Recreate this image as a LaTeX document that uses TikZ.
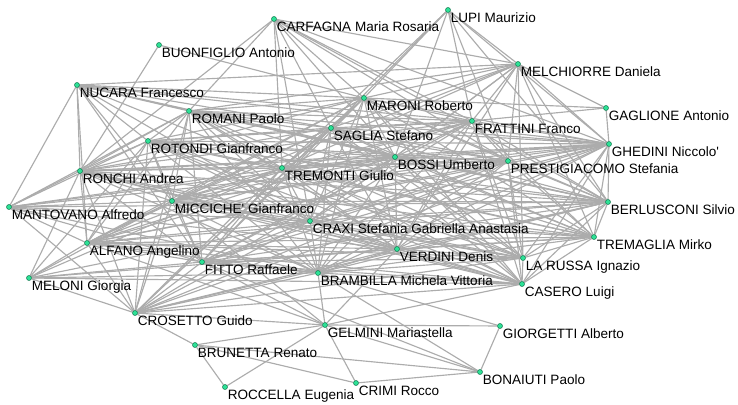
\documentclass[tikz,border=0pt]{standalone}
\usepackage{fontspec}
\setmainfont{Liberation Sans}
\usepackage{tikz}
\usetikzlibrary{backgrounds}
\definecolor{dotfill}{RGB}{45,225,150}
\definecolor{dotline}{RGB}{20,120,80}
\definecolor{linkgray}{RGB}{172,172,172}

\begin{document}
\begin{tikzpicture}[x=0.2mm,y=-0.2mm,
  person node/.style={circle, draw=dotline, fill=dotfill, line width=0.3pt, inner sep=0pt, minimum size=1.0mm},
  name text/.style={inner sep=0.3pt, font=\fontsize{7.7}{9}\selectfont},
  link/.style={draw=linkgray, line width=0.65pt}]
  \useasboundingbox (0,0) rectangle (738,405);
  % Nodes
  \node[person node, label={[name text]south east:CARFAGNA Maria Rosaria}] (carf) at (274,19) {};
  \node[person node, label={[name text]south east:BUONFIGLIO Antonio}] (buon) at (159,45) {};
  \node[person node, label={[name text]south east:NUCARA Francesco}] (nuca) at (77,85) {};
  \node[person node, label={[name text]south east:ROMANI Paolo}] (roma) at (189,111) {};
  \node[person node, label={[name text]south east:ROTONDI Gianfranco}] (roto) at (148,141) {};
  \node[person node, label={[name text]south east:RONCHI Andrea}] (ronc) at (80,171) {};
  \node[person node, label={[name text]south east:TREMONTI Giulio}] (trem) at (282,168) {};
  \node[person node, label={[name text]south east:SAGLIA Stefano}] (sagl) at (331,128) {};
  \node[person node, label={[name text]south east:MARONI Roberto}] (maro) at (364,98) {};
  \node[person node, label={[name text]south east:LUPI Maurizio}] (lupi) at (448,10) {};
  \node[person node, label={[name text]south east:MELCHIORRE Daniela}] (melc) at (518,64) {};
  \node[person node, label={[name text]south east:GAGLIONE Antonio}] (gagl) at (606,108) {};
  \node[person node, label={[name text]south east:FRATTINI Franco}] (frat) at (472,121) {};
  \node[person node, label={[name text]south east:GHEDINI Niccolo\textquotesingle}] (ghed) at (609,144) {};
  \node[person node, label={[name text]south east:BOSSI Umberto}] (boss) at (395,157) {};
  \node[person node, label={[name text]south east:PRESTIGIACOMO Stefania}] (pres) at (508,161) {};
  \node[person node, label={[name text]south east:MANTOVANO Alfredo}] (mant) at (9,207) {};
  \node[person node, label={[name text]south east:MICCICHE\textquotesingle{} Gianfranco}] (micc) at (172,201) {};
  \node[person node, label={[name text]south east:CRAXI Stefania Gabriella Anastasia}] (crax) at (310,221) {};
  \node[person node, label={[name text]south east:ALFANO Angelino}] (alfa) at (87,243) {};
  \node[person node, label={[name text]south east:FITTO Raffaele}] (fitt) at (202,262) {};
  \node[person node, label={[name text]south east:MELONI Giorgia}] (melo) at (29,278) {};
  \node[person node, label={[name text]south east:BRAMBILLA Michela Vittoria}] (bram) at (318,273) {};
  \node[person node, label={[name text]south east:CROSETTO Guido}] (cros) at (135,313) {};
  \node[person node, label={[name text]south east:GELMINI Mariastella}] (gelm) at (325,325) {};
  \node[person node, label={[name text]south east:BRUNETTA Renato}] (brun) at (195,345) {};
  \node[person node, label={[name text]south east:ROCCELLA Eugenia}] (rocc) at (225,387) {};
  \node[person node, label={[name text]south east:CRIMI Rocco}] (crim) at (356,383) {};
  \node[person node, label={[name text]south east:BERLUSCONI Silvio}] (berl) at (608,202) {};
  \node[person node, label={[name text]south east:TREMAGLIA Mirko}] (trmg) at (594,237) {};
  \node[person node, label={[name text]south east:VERDINI Denis}] (verd) at (397,249) {};
  \node[person node, label={[name text]south east:LA RUSSA Ignazio}] (laru) at (523,258) {};
  \node[person node, label={[name text]south east:CASERO Luigi}] (case) at (522,284) {};
  \node[person node, label={[name text]south east:GIORGETTI Alberto}] (gior) at (500,326) {};
  \node[person node, label={[name text]south east:BONAIUTI Paolo}] (bona) at (480,372) {};

  \begin{pgfonlayer}{background}
    % dense core
    \foreach \a [count=\i] in {maro,sagl,frat,boss,trem,pres,ghed,berl,crax,verd,micc,roto,ronc,roma,alfa,fitt,bram,laru,case,trmg}
      \foreach \b [count=\j] in {maro,sagl,frat,boss,trem,pres,ghed,berl,crax,verd,micc,roto,ronc,roma,alfa,fitt,bram,laru,case,trmg}
        {\ifnum\j>\i \draw[link] (\a) -- (\b);\fi}
    % outer members
    \foreach \a/\b in {carf/roma,carf/ronc,carf/trem,carf/maro,carf/sagl,carf/frat,carf/melc,carf/boss,carf/pres,carf/ghed,carf/berl,carf/crax,
      buon/ronc,buon/maro,
      lupi/maro,lupi/sagl,lupi/boss,lupi/frat,lupi/melc,lupi/pres,lupi/ghed,lupi/berl,lupi/trem,
      melc/nuca,melc/roma,melc/maro,melc/sagl,melc/frat,melc/boss,melc/trem,melc/pres,melc/gagl,melc/ghed,melc/berl,melc/trmg,melc/laru,melc/crax,melc/micc,melc/verd,
      gagl/maro,gagl/frat,gagl/ghed,
      nuca/mant,nuca/ronc,nuca/roma,nuca/roto,nuca/micc,nuca/trem,nuca/maro,nuca/sagl,nuca/frat,nuca/boss,nuca/crax,nuca/alfa,nuca/fitt,nuca/berl,nuca/ghed,
      mant/ronc,mant/alfa,mant/cros,mant/micc,mant/roto,mant/roma,mant/trem,mant/crax,mant/boss,mant/fitt,mant/bram,mant/verd,mant/ghed,mant/berl,
      melo/alfa,melo/ronc,melo/cros,melo/micc,melo/fitt,melo/bram,melo/case,melo/verd,melo/crax,melo/roto,melo/trem,
      cros/alfa,cros/ronc,cros/micc,cros/roma,cros/roto,cros/fitt,cros/bram,cros/crax,cros/verd,cros/trem,cros/boss,cros/sagl,cros/maro,cros/laru,cros/case,cros/gelm,cros/brun,cros/berl,cros/ghed,cros/pres,
      gelm/brun,gelm/rocc,gelm/crim,gelm/bona,gelm/gior,gelm/bram,gelm/verd,gelm/case,gelm/fitt,gelm/micc,gelm/alfa,
      brun/rocc,brun/crim,brun/bona,
      crim/bona,
      bona/gior,bona/bram,bona/fitt,
      gior/bram}
      \draw[link] (\a) -- (\b);
  \end{pgfonlayer}
\end{tikzpicture}
\end{document}
